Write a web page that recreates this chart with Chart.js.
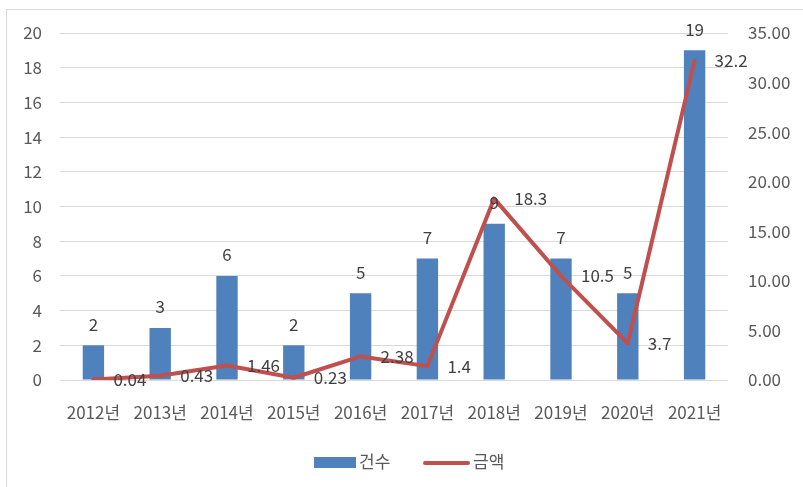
<!DOCTYPE html>
<html>
<head>
<meta charset="utf-8">
<script src="https://cdn.jsdelivr.net/npm/chart.js@4"></script>
<style>
  html,body{margin:0;padding:0;background:#fff;}
  #wrap{position:relative;width:803px;height:487px;}
</style>
</head>
<body>
<div id="wrap"><canvas id="c" width="803" height="487"></canvas></div>
<script>
// data
const years = ["2012년","2013년","2014년","2015년","2016년","2017년","2018년","2019년","2020년","2021년"];
const counts = [2, 3, 6, 2, 5, 7, 9, 7, 5, 19];        // 건수 (bars, left axis)
const amounts = [0.04, 0.43, 1.46, 0.23, 2.38, 1.4, 18.3, 10.5, 3.7, 32.2]; // 금액 (line, right axis)

const FONT = "'Noto Sans CJK KR', 'Noto Sans', sans-serif";
const BLUE = "#4F81BD", RED = "#C0504D", TXT = "#595959", LBL = "#404040";

// outer frame like the office chart box
const frame = {
  id:"frame",
  beforeDraw(chart){
    const ctx = chart.ctx;
    ctx.save();
    ctx.fillStyle = "#fff";
    ctx.fillRect(0,0,chart.width,chart.height);
    ctx.strokeStyle = "#d9d9d9"; ctx.lineWidth = 1;
    ctx.strokeRect(6.5, 9.5, 820, 500);
    ctx.restore();
  }
};

// value labels: bars above, line to the right of the point
const valueLabels = {
  id:"valueLabels",
  afterDatasetsDraw(chart){
    const ctx = chart.ctx;
    ctx.save();
    ctx.font = "17px " + FONT;
    ctx.fillStyle = LBL;
    ctx.textBaseline = "middle";
    chart.getDatasetMeta(1).data.forEach((bar, i) => {
      ctx.textAlign = "center";
      ctx.fillText(String(counts[i]), bar.x, bar.y - 21);
    });
    chart.getDatasetMeta(0).data.forEach((pt, i) => {
      ctx.textAlign = "left";
      ctx.fillText(String(amounts[i]), pt.x + 20, pt.y);
    });
    ctx.restore();
  }
};

// bottom legend: box for bars, thick line for the line series
const bottomLegend = {
  id:"bottomLegend",
  afterDraw(chart){
    const ctx = chart.ctx, y = 462;
    ctx.save();
    ctx.font = "17px " + FONT;
    ctx.fillStyle = TXT;
    ctx.textBaseline = "middle";
    ctx.textAlign = "left";
    ctx.fillStyle = BLUE;
    ctx.fillRect(314, y - 5, 42, 11);
    ctx.fillStyle = TXT;
    ctx.fillText(chart.data.datasets[1].label, 359, y);
    ctx.strokeStyle = RED; ctx.lineWidth = 4; ctx.lineCap = "round";
    ctx.beginPath(); ctx.moveTo(425, y + 1); ctx.lineTo(468, y + 1); ctx.stroke();
    ctx.fillText(chart.data.datasets[0].label, 473, y);
    ctx.restore();
  }
};

new Chart(document.getElementById("c").getContext("2d"), {
  type:"bar",
  data:{ labels:years, datasets:[
    { type:"line", label:"금액", data:amounts, yAxisID:"y2", borderColor:RED, backgroundColor:RED,
      borderWidth:4, tension:0, pointRadius:0, borderCapStyle:"round", borderJoinStyle:"round", order:0 },
    { type:"bar", label:"건수", data:counts, yAxisID:"y", backgroundColor:BLUE,
      categoryPercentage:1, barPercentage:0.32, order:1 }
  ]},
  options:{
    responsive:false, animation:false, devicePixelRatio:1,
    layout:{ padding:{ top:33, bottom:40, left:0, right:0 } },
    plugins:{ legend:{ display:false }, tooltip:{ enabled:false } },
    scales:{
      x:{
        grid:{ display:false, drawTicks:false }, border:{ display:false },
        ticks:{ color:TXT, font:{ family:FONT, size:17 }, padding:22, maxRotation:0, autoSkip:false },
        afterFit(s){ s.height = 67; }
      },
      y:{
        position:"left", min:0, max:20,
        grid:{ color:"#d9d9d9", drawTicks:false }, border:{ display:false },
        ticks:{ stepSize:2, color:TXT, font:{ family:FONT, size:17 }, padding:18 },
        afterFit(s){ s.width = 60; }
      },
      y2:{
        position:"right", min:0, max:35,
        grid:{ display:false, drawTicks:false }, border:{ display:false },
        ticks:{ stepSize:5, color:TXT, font:{ family:FONT, size:17 }, padding:20,
          callback:v => Number(v).toFixed(2) },
        afterFit(s){ s.width = 75; }
      }
    }
  },
  plugins:[frame, valueLabels, bottomLegend]
});
</script>
</body>
</html>
